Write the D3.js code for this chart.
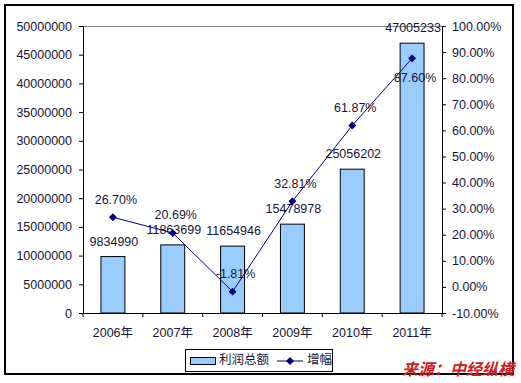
<!DOCTYPE html>
<html lang="zh">
<head>
  <meta charset="utf-8">
  <title>利润总额与增幅</title>
  <script src="https://d3js.org/d3.v7.min.js"></script>
  <style>
    body { margin: 0; background: #fff; }
    svg text { font-family: "Liberation Sans", Arial, "Noto Sans CJK SC", sans-serif; font-size: 12.5px; fill: #151538; }
    .axis path, .axis line { stroke: #000; }
  </style>
</head>
<body>
  <svg width="521" height="383"></svg>
  <script>
    // data
    var years = ["2006年", "2007年", "2008年", "2009年", "2010年", "2011年"];
    var profit = [9834990, 11863699, 11654946, 15478978, 25056202, 47005233];
    var growth = [26.70, 20.69, -1.81, 32.81, 61.87, 87.60];
    var growthLabelPos = ["above", "above", "above", "above", "above", "below"];
    var leftTicks = d3.range(0, 50000001, 5000000);
    var rightTicks = d3.range(-10, 101, 10);

    var svg = d3.select("svg");
    // (don't call it "top", that's window.top)
    var plotL = 83, plotR = 442, plotT = 26, plotB = 313;

    // outer frame
    svg.append("rect")
      .attr("x", 5).attr("y", 5).attr("width", 508).attr("height", 369)
      .attr("fill", "none").attr("stroke", "#000").attr("stroke-width", 2);

    var x = d3.scaleBand().domain(years).range([plotL, plotR]).paddingInner(0.6).paddingOuter(0.3);
    var xc = d3.scalePoint().domain(years).range([plotL, plotR]).padding(0.5);
    var yL = d3.scaleLinear().domain([0, 50000000]).range([plotB, plotT]);
    var yR = d3.scaleLinear().domain([-10, 100]).range([plotB, plotT]);

    // top border of the plot area
    svg.append("line")
      .attr("x1", plotL).attr("x2", plotR).attr("y1", plotT + 0.5).attr("y2", plotT + 0.5)
      .attr("stroke", "#808080");

    // bars
    svg.append("g").selectAll("rect")
      .data(profit)
      .enter().append("rect")
      .attr("x", function (d, i) { return x(years[i]); })
      .attr("y", function (d) { return yL(d); })
      .attr("width", x.bandwidth())
      .attr("height", function (d) { return plotB - yL(d); })
      .attr("fill", "#99ccff")
      .attr("stroke", "#000")
      .attr("stroke-width", 1);

    // axes
    svg.append("g").attr("class", "axis")
      .attr("transform", "translate(" + plotL + ",0)")
      .call(d3.axisLeft(yL).tickValues(leftTicks).tickFormat(d3.format("d")).tickSizeInner(4).tickSizeOuter(0).tickPadding(7));
    svg.append("g").attr("class", "axis")
      .attr("transform", "translate(" + plotR + ",0)")
      .call(d3.axisRight(yR).tickValues(rightTicks).tickFormat(function (d) { return d.toFixed(2) + "%"; })
        .tickSizeInner(4).tickSizeOuter(0).tickPadding(6));
    var gb = svg.append("g").attr("class", "axis")
      .attr("transform", "translate(0," + plotB + ")")
      .call(d3.axisBottom(x).tickSize(0).tickPadding(15));
    // category separators on the bottom axis
    gb.selectAll(".sep")
      .data(d3.range(years.length + 1))
      .enter().append("line")
      .attr("x1", function (i) { return plotL + i * (plotR - plotL) / years.length; })
      .attr("x2", function (i) { return plotL + i * (plotR - plotL) / years.length; })
      .attr("y1", 0).attr("y2", 4)
      .attr("stroke", "#000");
    svg.selectAll(".axis text").attr("fill", "#151538").style("font-size", "12.5px");

    // bar value labels
    svg.append("g").selectAll("text")
      .data(profit)
      .enter().append("text")
      .attr("x", function (d, i) { return xc(years[i]) + 1; })
      .attr("y", function (d) { return yL(d) - 14; })
      .attr("text-anchor", "middle")
      .attr("dominant-baseline", "middle")
      .text(function (d) { return d; });

    // growth line
    var line = d3.line()
      .x(function (d, i) { return xc(years[i]); })
      .y(function (d) { return yR(d); });
    svg.append("path")
      .datum(growth)
      .attr("d", line)
      .attr("fill", "none")
      .attr("stroke", "#000080")
      .attr("stroke-width", 1);

    svg.append("g").selectAll("path")
      .data(growth)
      .enter().append("path")
      .attr("d", d3.symbol().type(d3.symbolDiamond2).size(40))
      .attr("transform", function (d, i) { return "translate(" + xc(years[i]) + "," + yR(d) + ")"; })
      .attr("fill", "#000080");

    svg.append("g").selectAll("text")
      .data(growth)
      .enter().append("text")
      .attr("x", function (d, i) { return xc(years[i]) + 3; })
      .attr("y", function (d, i) { return yR(d) + (growthLabelPos[i] === "below" ? 20 : -17); })
      .attr("text-anchor", "middle")
      .attr("dominant-baseline", "middle")
      .text(function (d) { return d.toFixed(2) + "%"; });

    // legend
    var lg = svg.append("g");
    lg.append("rect")
      .attr("x", 185.5).attr("y", 349.5).attr("width", 147).attr("height", 22)
      .attr("fill", "#fff").attr("stroke", "#000");
    lg.append("rect")
      .attr("x", 190.5).attr("y", 357.5).attr("width", 25).attr("height", 7)
      .attr("fill", "#99ccff").attr("stroke", "#000");
    lg.append("text").attr("x", 219).attr("y", 361).attr("dominant-baseline", "middle").text("利润总额");
    lg.append("line").attr("x1", 277).attr("x2", 303).attr("y1", 361).attr("y2", 361).attr("stroke", "#000080");
    lg.append("path")
      .attr("d", d3.symbol().type(d3.symbolDiamond2).size(40))
      .attr("transform", "translate(290,361)").attr("fill", "#000080");
    lg.append("text").attr("x", 307).attr("y", 361).attr("dominant-baseline", "middle").text("增幅");

    // source note
    svg.append("text")
      .attr("x", 514).attr("y", 375)
      .attr("text-anchor", "end")
      .style("font-family", "'Noto Sans CJK SC', sans-serif")
      .style("font-size", "16px")
      .style("font-weight", "bold")
      .style("font-style", "italic")
      .style("fill", "#cc2020")
      .text("来源：中经纵横");
  </script>
</body>
</html>
